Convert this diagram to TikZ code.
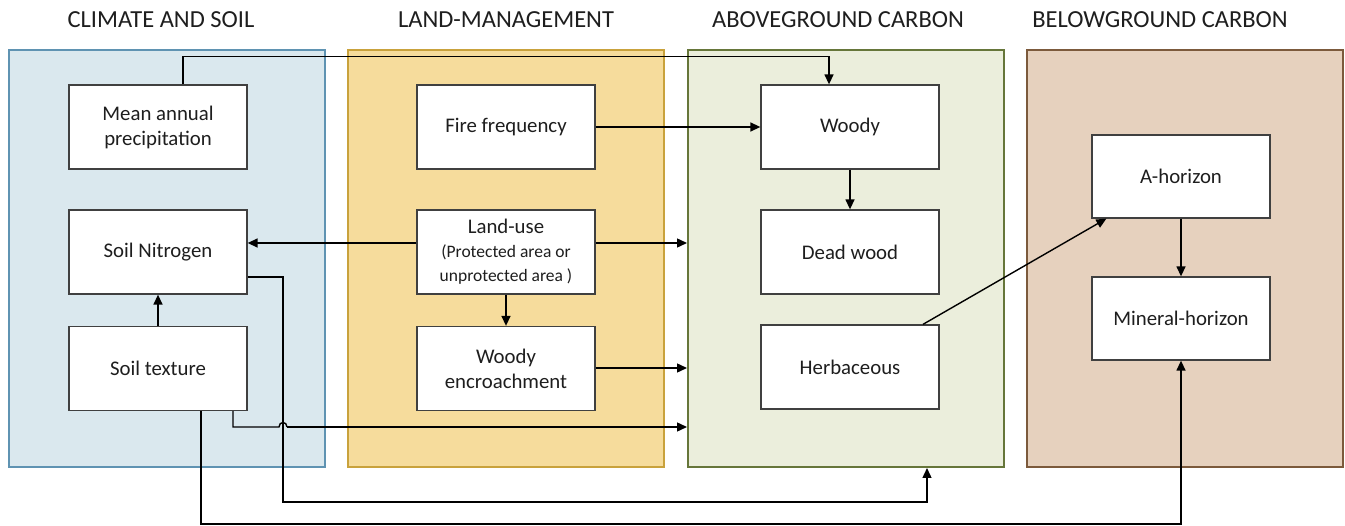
\documentclass[tikz,border=0pt]{standalone}
\usepackage{fontspec}
\setmainfont{Carlito}
\usetikzlibrary{arrows.meta}
\definecolor{cfill}{HTML}{DAE8EE}\definecolor{cline}{HTML}{5F93B2}
\definecolor{lfill}{HTML}{F6DC9C}\definecolor{lline}{HTML}{C9A23C}
\definecolor{afill}{HTML}{EBEEDC}\definecolor{aline}{HTML}{66763A}
\definecolor{bfill}{HTML}{E6D1BE}\definecolor{bline}{HTML}{7C5A3C}
\definecolor{boxline}{HTML}{404040}
\definecolor{txt}{HTML}{1E1E1E}
\tikzset{
  panel/.style={draw, line width=2pt, minimum width=316pt, minimum height=417pt, inner sep=0pt},
  head/.style={font=\fontsize{24.5}{28}\selectfont, text=txt, anchor=center},
  box/.style={draw=boxline, line width=1.3pt, fill=white, minimum width=178pt, minimum height=84pt, align=center, inner sep=2pt, text=txt, font=\fontsize{20.8}{25}\selectfont, execute at begin node={\vspace*{4pt}}},
  arr/.style={line width=1.4pt, -{Triangle[length=10pt,width=9pt]}},
  ln/.style={line width=1.4pt}
}
\begin{document}
\begin{tikzpicture}[x=1pt,y=-1pt]
\useasboundingbox (0,0) rectangle (1345,526);
% panels
\node[panel, fill=cfill, draw=cline] (pc) at (167,258.5) {};
\node[panel, fill=lfill, draw=lline] (pl) at (505.5,258.5) {};
\node[panel, fill=afill, draw=aline] (pa) at (846,258.5) {};
\node[panel, fill=bfill, draw=bline] (pb) at (1185,258.5) {};
% headers
\node[head] (hc) at (161,20) {CLIMATE AND SOIL};
\node[head] (hl) at (506,20) {LAND-MANAGEMENT};
\node[head] (ha) at (838,20) {ABOVEGROUND CARBON};
\node[head] (hb) at (1160,20) {BELOWGROUND CARBON};
% boxes
\node[box] (map) at (158,127) {Mean annual\\precipitation};
\node[box] (sn) at (158,252) {Soil Nitrogen};
\node[box] (st) at (158,368.5) {Soil texture};
\node[box] (ff) at (506,127) {Fire frequency};
\node[box, font=\fontsize{17.5}{24}\selectfont] (lu) at (506,252) {{\fontsize{20.8}{24}\selectfont Land-use}\\(Protected area or\\unprotected area )};
\node[box] (we) at (506,368.5) {Woody\\encroachment};
\node[box] (wo) at (850,127) {Woody};
\node[box] (dw) at (850,252) {Dead wood};
\node[box] (he) at (850,367) {Herbaceous};
\node[box, minimum height=83pt] (ah) at (1181,176.5) {A-horizon};
\node[box, minimum height=83pt] (mh) at (1181,318.5) {Mineral-horizon};
% coordinates
\coordinate (luw) at ([yshift=9pt]lu.west);
\coordinate (lue) at ([yshift=9pt]lu.east);
\coordinate (wee) at ([yshift=0.5pt]we.east);
\coordinate (c9) at (283,502);
\coordinate (c10) at (201,524);
\coordinate (h1) at (279,427);
\coordinate (h2) at (287,427);
% connectors
\draw[arr] ([xshift=25pt]map.north) -- ++(0,-28) -| ([xshift=-21pt]wo.north);
\draw[arr] (ff.east) -- (wo.west);
\draw[arr] (wo.south) -- (dw.north);
\draw[arr] (luw) -- (sn.east |- luw);
\draw[arr] (lue) -- (pa.west |- lue);
\draw[arr] (lu.south) -- (we.north);
\draw[arr] (st.north) -- (sn.south);
\draw[arr] (wee) -- (pa.west |- wee);
\draw[arr] ([yshift=-25pt]sn.east) -| (c9) -| ([xshift=81pt]pa.south);
\draw[ln] ([xshift=75pt]st.south) |- (h1) .. controls (279,421) and (287,421) .. (h2);
\draw[arr] (h2) -- (pa.west |- h2);
\draw[arr] ([xshift=43pt]st.south) -- (c10) -| (mh.south);
\draw[arr] ([xshift=73pt]he.north) -- ([xshift=15pt]ah.south west);
\draw[arr] (ah.south) -- (mh.north);
\end{tikzpicture}
\end{document}
